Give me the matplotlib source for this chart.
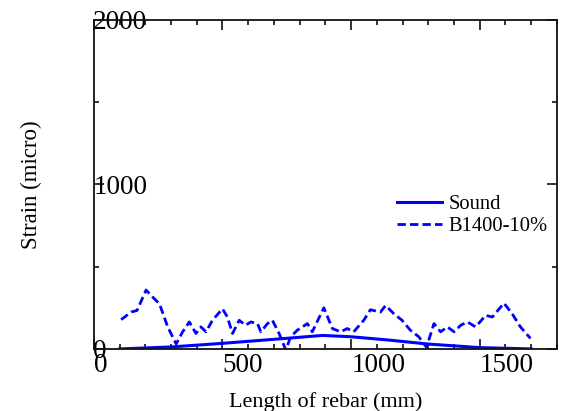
import matplotlib
matplotlib.use("Agg")
import matplotlib.pyplot as plt
from matplotlib.ticker import MultipleLocator

plt.rcParams["font.family"] = ["Liberation Serif", "DejaVu Serif"]

# Sound (smooth bump)
sound_x = [100, 300, 500, 745, 888, 1000, 1146, 1297, 1500, 1700]
sound_y = [0, 12, 34, 64, 82, 74, 54, 30, 8, 0]

# B1400-10%
b_x = [106, 145, 168, 203, 223, 255, 287, 320, 345, 371, 397, 416, 436, 461,
       500, 519, 539, 565, 590, 610, 636, 649, 675, 694, 720, 746, 765, 791,
       830, 849, 894, 927, 959, 985, 1010, 1049, 1075, 1114, 1134, 1166, 1198,
       1230, 1263, 1293, 1322, 1348, 1374, 1400, 1426, 1452, 1484, 1523, 1549,
       1594, 1626, 1658, 1697]
b_y = [178, 224, 234, 358, 324, 274, 134, 30, 104, 164, 94, 134, 104, 174,
       244, 194, 94, 174, 144, 164, 154, 104, 154, 174, 94, -6, 74, 114,
       154, 104, 250, 124, 104, 124, 104, 174, 238, 224, 264, 214, 174,
       114, 74, 10, 154, 104, 134, 104, 144, 164, 134, 204, 194,
       278, 214, 134, 64]

fig = plt.figure(figsize=(5.62, 4.11), dpi=100)
ax = fig.add_axes([0.167, 0.151, 0.824, 0.801])

ax.plot(sound_x, sound_y, color="#0000ff", lw=2.2, label="Sound")
ax.plot(b_x, b_y, color="#0000ff", lw=2.0, linestyle=(0, (3, 1.5)), label="B1400-10%")

ax.set_xlim(0, 1800)
ax.set_ylim(0, 2000)
ax.xaxis.set_major_locator(MultipleLocator(500))
ax.xaxis.set_minor_locator(MultipleLocator(100))
ax.yaxis.set_major_locator(MultipleLocator(1000))
ax.yaxis.set_minor_locator(MultipleLocator(500))
ax.tick_params(which="both", direction="in", top=True, right=True, width=1.2, colors="#111111")
ax.tick_params(which="major", length=7, labelsize=19.5, labelcolor="black")
ax.tick_params(which="minor", length=3.5)
ax.tick_params(axis="x", pad=3)
ax.tick_params(axis="y", pad=0.5)
for lab in ax.get_xticklabels():
    lab.set_horizontalalignment("left")
for lab in ax.get_yticklabels():
    lab.set_horizontalalignment("left")
for s in ax.spines.values():
    s.set_linewidth(1.3)
    s.set_color("#111111")

ax.set_xlabel("Length of rebar (mm)", fontsize=16)
ax.set_ylabel("Strain (micro)", fontsize=16.5)
ax.xaxis.set_label_coords(0.5, -0.13)
ax.yaxis.set_label_coords(-0.112, 0.5)

ax.legend(loc="upper left", bbox_to_anchor=(397 / 562, 1 - 195 / 411),
          bbox_transform=fig.transFigure, frameon=False, fontsize=14.8,
          handlelength=2.2, handletextpad=0.3, labelspacing=0.1, borderpad=0,
          borderaxespad=0)

plt.savefig("out.png", dpi=100)
